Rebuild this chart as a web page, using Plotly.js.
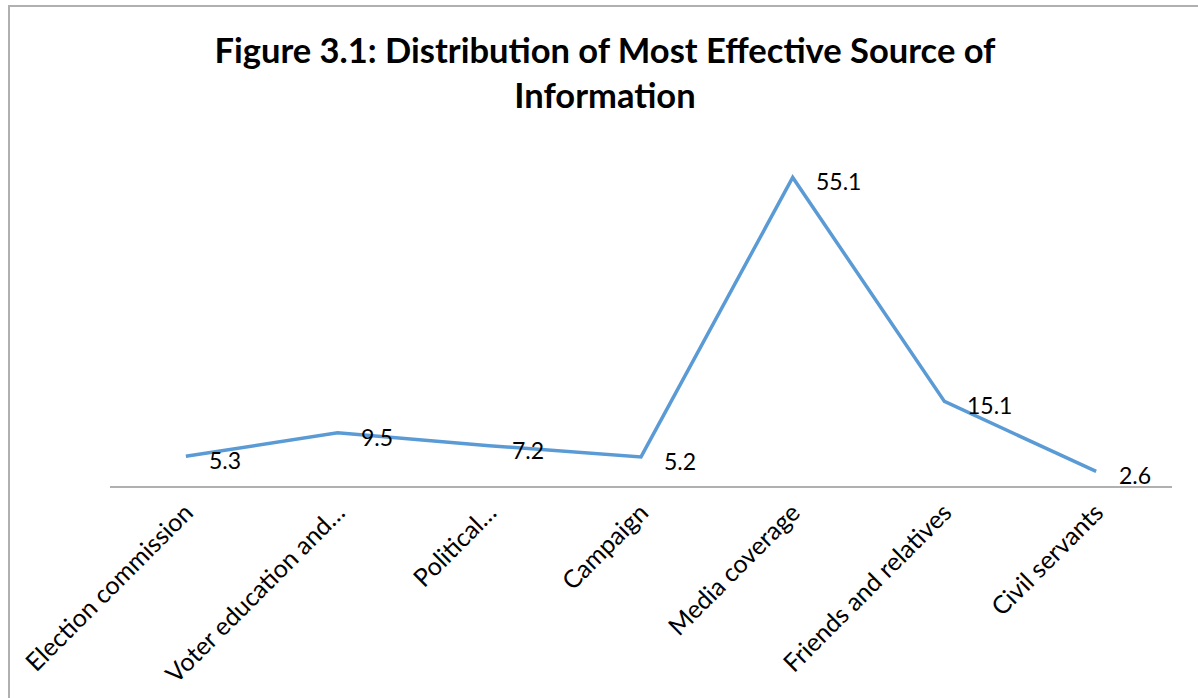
<!DOCTYPE html>
<html>
<head>
<meta charset="utf-8">
<script src="https://cdn.plot.ly/plotly-3.0.1.min.js"></script>
<style>
html,body{margin:0;padding:0;background:#fff;}
#wrap{position:relative;width:1198px;height:698px;overflow:hidden;}
#chart{position:absolute;left:0;top:0;width:1198px;height:698px;}
#border{position:absolute;left:8px;top:5px;width:1200px;height:700px;border-left:2px solid #b0b0b0;border-top:2px solid #b0b0b0;pointer-events:none;}
</style>
</head>
<body>
<div id="wrap"><div id="chart"></div><div id="border"></div></div>
<script>
var categories = ["Election commission", "Voter education and…", "Political…", "Campaign", "Media coverage", "Friends and relatives", "Civil servants"];
var values = [5.3, 9.5, 7.2, 5.2, 55.1, 15.1, 2.6];
var labels = ["5.3", "9.5", "7.2", "5.2", "55.1", "15.1", "2.6"];

var font = "Lato, 'Open Sans', sans-serif";

var trace = {
  x: categories,
  y: values,
  type: "scatter",
  mode: "lines",
  line: {color: "#5B9BD5", width: 3.5},
  hoverinfo: "skip"
};

var annotations = categories.map(function(c, i){
  return {x: c, y: values[i], text: labels[i], showarrow: false,
          xanchor: "left", yanchor: "middle", xshift: 21, yshift: -4,
          font: {family: font, size: 23, color: "#000"}};
});

var layout = {
  width: 1198, height: 698,
  margin: {l: 110, r: 26, t: 150, b: 212},
  paper_bgcolor: "#fff", plot_bgcolor: "#fff",
  showlegend: false,
  title: {text: "<b>Figure 3.1: Distribution of Most Effective Source of<br>Information</b>",
          x: 0.505, xanchor: "center", y: 0.91, yanchor: "top",
          font: {family: font, size: 34.5, color: "#000"}},
  xaxis: {type: "category", range: [-0.5, 6.5], showgrid: false, zeroline: false, showline: true,
          linecolor: "#b0b0b0", linewidth: 2, ticks: "", tickangle: -45, automargin: false,
          tickfont: {family: font, size: 25, color: "#000"}, fixedrange: true},
  yaxis: {range: [0, 60], visible: false, showgrid: false, zeroline: false, fixedrange: true},
  annotations: annotations
};

Plotly.newPlot("chart", [trace], layout, {displayModeBar: false, staticPlot: true});
</script>
</body>
</html>
